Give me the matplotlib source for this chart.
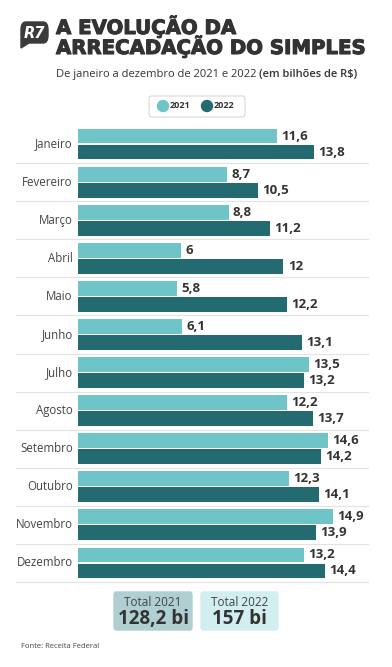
import numpy as np
import matplotlib
matplotlib.use("Agg")
import matplotlib.pyplot as plt
import matplotlib.patheffects as pe
from matplotlib.patches import FancyBboxPatch, Polygon, Ellipse

plt.rcParams['font.family'] = ['Open Sans', 'DejaVu Sans']

meses = ['Janeiro', 'Fevereiro', 'Março', 'Abril', 'Maio', 'Junho',
         'Julho', 'Agosto', 'Setembro', 'Outubro', 'Novembro', 'Dezembro']
v2021 = [11.6, 8.7, 8.8, 6, 5.8, 6.1, 13.5, 12.2, 14.6, 12.3, 14.9, 13.2]
v2022 = [13.8, 10.5, 11.2, 12, 12.2, 13.1, 13.2, 13.7, 14.2, 14.1, 13.9, 14.4]
total_2021 = '128,2 bi'
total_2022 = '157 bi'

c21 = '#6ec4c7'
c22 = '#236b70'
txt = '#333333'

W, H = 392, 667
fig = plt.figure(figsize=(W / 100, H / 100), dpi=100)


def fx(x):
    return x / W


def fy(y):
    return 1 - y / H


def fmt(v):
    s = ('%.1f' % v).replace('.', ',')
    if s.endswith(',0'):
        s = s[:-2]
    return s


# chart axes
left, right, top, bottom = 78, 368, 125, 582
ax = fig.add_axes([fx(left), fy(bottom), (right - left) / W, (bottom - top) / H])
y = np.arange(len(meses))
h = 0.39
ax.barh(y - 0.21, v2021, height=h, color=c21)
ax.barh(y + 0.21, v2022, height=h, color=c22)
ax.set_xlim(0, (right - left) / 17.12)
ax.set_ylim(len(meses) - 0.5, -0.5)
ax.axis('off')

for i in range(len(meses)):
    ax.text(-0.3, i, meses[i], ha='right', va='center', fontsize=8.3, color='#444444')
    ax.text(v2021[i] + 0.25, i - 0.21, fmt(v2021[i]), ha='left', va='center',
            fontsize=9.5, fontweight='bold', color=txt)
    ax.text(v2022[i] + 0.25, i + 0.21, fmt(v2022[i]), ha='left', va='center',
            fontsize=9.5, fontweight='bold', color=txt)
    ax.axhline(i + 0.5, xmin=-(left - 16) / (right - left), xmax=1,
               color='#e2e2e2', lw=0.8, clip_on=False)

# logo
logo = FancyBboxPatch((fx(21), fy(43)), fx(27), 21 / H,
                      boxstyle='round,pad=0,rounding_size=0.012',
                      transform=fig.transFigure, color='#3b3b3b')
fig.patches.append(logo)
tail = Polygon([[fx(21), fy(38)], [fx(21), fy(48)], [fx(29), fy(43)]],
               closed=True, transform=fig.transFigure, color='#3b3b3b')
fig.patches.append(tail)
fig.text(fx(34.5), fy(33), 'R7', ha='center', va='center', color='white',
         fontsize=10.5, fontweight='bold', style='italic', family='DejaVu Sans')

# title
thick = [pe.withStroke(linewidth=0.8, foreground=txt)]
fig.text(fx(56), fy(34), 'A EVOLUÇÃO DA', ha='left', va='baseline',
         fontsize=14.2, fontweight='bold', color=txt, family='DejaVu Sans',
         path_effects=thick)
fig.text(fx(56), fy(54), 'ARRECADAÇÃO DO SIMPLES', ha='left', va='baseline',
         fontsize=14.2, fontweight='bold', color=txt, family='DejaVu Sans',
         path_effects=thick)
t1 = fig.text(fx(56), fy(77), 'De janeiro a dezembro de 2021 e 2022 ', ha='left',
              va='baseline', fontsize=8, color=txt)
fig.canvas.draw()
bb = t1.get_window_extent()
fig.text(bb.x1 / W, fy(77), '(em bilhões de R$)', ha='left', va='baseline',
         fontsize=8, fontweight='semibold', color=txt)

# legend
leg = FancyBboxPatch((fx(149), fy(117)), fx(96), 21 / H,
                     boxstyle='round,pad=0,rounding_size=0.006',
                     transform=fig.transFigure, facecolor='white',
                     edgecolor='#d8d8d8', lw=0.8)
fig.patches.append(leg)
for cx, col, lab in [(163, c21, '2021'), (207, c22, '2022')]:
    fig.patches.append(Ellipse((fx(cx), fy(106)), 11 / W, 11 / H,
                               transform=fig.transFigure, color=col))
    fig.text(fx(cx + 7), fy(106), lab, ha='left', va='center', fontsize=6.5,
             fontweight='bold', color=txt)

# total boxes
for x0, x1, col, lab, val in [(114, 192, '#afcfd2', 'Total 2021', total_2021),
                              (201, 278, '#d3eef0', 'Total 2022', total_2022)]:
    box = FancyBboxPatch((fx(x0), fy(630)), fx(x1 - x0), 38 / H,
                         boxstyle='round,pad=0,rounding_size=0.005',
                         transform=fig.transFigure, color=col)
    fig.patches.append(box)
    xc = fx((x0 + x1) / 2)
    fig.text(xc, fy(602), lab, ha='center', va='center', fontsize=8.5, color='#444444')
    fig.text(xc, fy(619), val, ha='center', va='center', fontsize=13.5,
             fontweight='bold', color=txt)

fig.text(fx(21), fy(647), 'Fonte: Receita Federal', ha='left', va='center',
         fontsize=5.5, color='#444444')

fig.savefig('out.png', dpi=100)
